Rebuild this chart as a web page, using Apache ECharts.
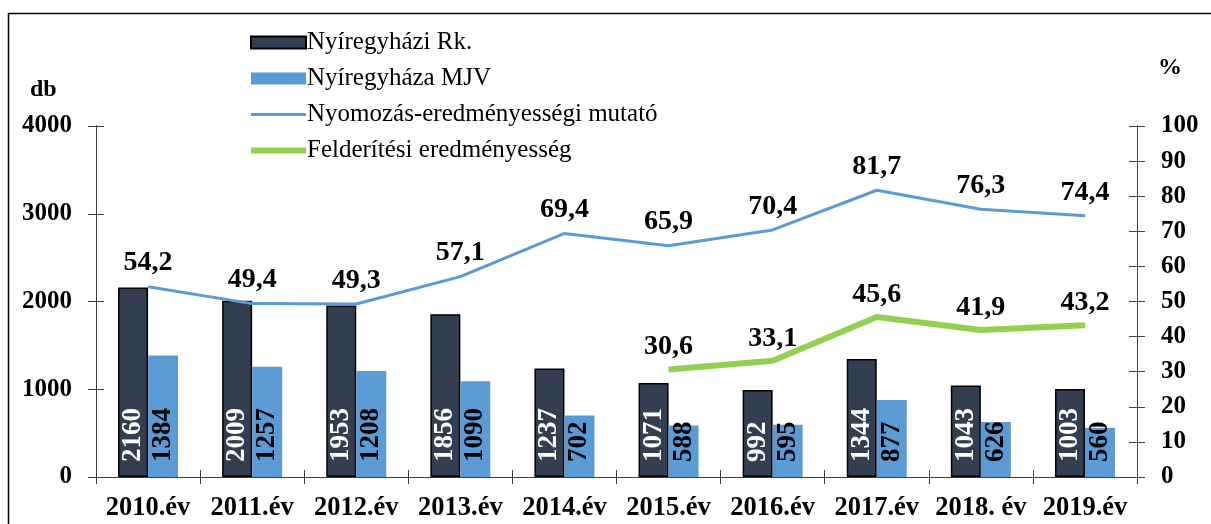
<!DOCTYPE html>
<html>
<head>
<meta charset="utf-8">
<script src="https://cdn.jsdelivr.net/npm/echarts@6/dist/echarts.min.js"></script>
<style>
  html, body { margin: 0; padding: 0; background: #fff; }
  #chart { width: 1211px; height: 524px; }
</style>
</head>
<body>
<div id="chart"></div>
<script>
  const categories = ['2010.év', '2011.év', '2012.év', '2013.év', '2014.év', '2015.év', '2016.év', '2017.év', '2018. év', '2019.év'];
  const rkValues = [2160, 2009, 1953, 1856, 1237, 1071, 992, 1344, 1043, 1003];
  const mjvValues = [1384, 1257, 1208, 1090, 702, 588, 595, 877, 626, 560];
  const nyomozasValues = [54.2, 49.4, 49.3, 57.1, 69.4, 65.9, 70.4, 81.7, 76.3, 74.4];
  const felderitesValues = [null, null, null, null, null, 30.6, 33.1, 45.6, 41.9, 43.2];
  const seriesNames = ['Nyíregyházi Rk.', 'Nyíregyháza MJV', 'Nyomozás-eredményességi mutató', 'Felderítési eredményesség'];

  const FONT = '"Liberation Serif", "Times New Roman", serif';
  const AXIS_COLOR = '#404040';
  const NO_SYMBOL = { color: 'rgba(0,0,0,0)', borderColor: 'rgba(0,0,0,0)', borderWidth: 0 };

  const chart = echarts.init(document.getElementById('chart'));

  // kereszt alakú osztásjelek: minden tengely kétszer, egyszer kifelé, egyszer befelé
  function yAxisBase(pos, max, interval, showLabel, inside) {
    return {
      type: 'value',
      position: pos,
      min: 0,
      max: max,
      interval: interval,
      axisLine: { show: true, lineStyle: { color: AXIS_COLOR, width: 1 } },
      axisTick: { show: true, inside: inside, length: 8, lineStyle: { color: AXIS_COLOR } },
      splitLine: { show: false },
      axisLabel: {
        show: showLabel,
        margin: 24,
        formatter: v => String(v),
        color: '#000',
        fontFamily: FONT,
        fontWeight: 'bold',
        fontSize: 25
      }
    }
  }

  const pctFormat = p => p.value == null ? '' : String(p.value).replace('.', ',');

  const barLabel = (color) => ({
    show: true,
    position: 'insideBottom',
    distance: 15,
    rotate: 90,
    align: 'left',
    verticalAlign: 'middle',
    color: color,
    fontFamily: FONT,
    fontWeight: 'bold',
    fontSize: 27
  });

  const lineLabel = {
    show: true,
    position: 'top',
    distance: 9,
    formatter: pctFormat,
    color: '#000',
    fontFamily: FONT,
    fontWeight: 'bold',
    fontSize: 28
  };

  chart.setOption({
    animation: false,
    grid: { left: 96, right: 74, top: 126, bottom: 47, containLabel: false },
    legend: {
      orient: 'vertical',
      left: 248,
      top: 30,
      padding: 0,
      itemWidth: 55,
      itemHeight: 12,
      itemGap: 11,
      data: [
        { name: seriesNames[0], icon: 'rect' },
        { name: seriesNames[1], icon: 'rect' },
        { name: seriesNames[2], itemStyle: NO_SYMBOL, lineStyle: { width: 3 } },
        { name: seriesNames[3], itemStyle: NO_SYMBOL, lineStyle: { width: 6 } }
      ],
      textStyle: { fontFamily: FONT, fontSize: 25, color: '#000', padding: [0, 0, 0, -4] }
    },
    graphic: [
      {
        type: 'rect',
        shape: { x: 8.5, y: 13.5, width: 1300, height: 600 },
        style: { fill: 'none', stroke: '#000', lineWidth: 1.5 },
        z: -1
      },
      {
        type: 'text', left: 30, top: 78,
        style: { text: 'db', fontFamily: FONT, fontWeight: 'bold', fontSize: 24, fill: '#000' }
      },
      {
        type: 'text', left: 1158, top: 56,
        style: { text: '%', fontFamily: FONT, fontWeight: 'bold', fontSize: 24, fill: '#000' }
      }
    ],
    xAxis: [
      {
        type: 'category',
        data: categories,
        axisLine: { lineStyle: { color: AXIS_COLOR } },
        axisTick: { show: true, length: 7, lineStyle: { color: AXIS_COLOR } },
        axisLabel: {
          interval: 0,
          margin: 18,
          color: '#000',
          fontFamily: FONT,
          fontWeight: 'bold',
          fontSize: 26.5
        }
      },
      {
        type: 'category',
        data: categories,
        position: 'bottom',
        axisLine: { show: false },
        axisTick: { show: true, inside: true, length: 7, lineStyle: { color: AXIS_COLOR } },
        axisLabel: { show: false }
      }
    ],
    yAxis: [
      yAxisBase('left', 4000, 1000, true, false),
      yAxisBase('right', 100, 10, true, false),
      yAxisBase('left', 4000, 1000, false, true),
      yAxisBase('right', 100, 10, false, true)
    ],
    series: [
      {
        name: seriesNames[0],
        type: 'bar',
        data: rkValues,
        barWidth: 30,
        barGap: '0%',
        itemStyle: { color: '#333f50', borderColor: '#000', borderWidth: 1.5 },
        label: barLabel('#fff')
      },
      {
        name: seriesNames[1],
        type: 'bar',
        data: mjvValues,
        barWidth: 30,
        itemStyle: { color: '#5b9bd5' },
        label: barLabel('#000')
      },
      {
        name: seriesNames[2],
        type: 'line',
        yAxisIndex: 1,
        data: nyomozasValues,
        symbol: 'circle',
        symbolSize: 1,
        lineStyle: { color: '#5b9bd5', width: 3 },
        itemStyle: { color: '#5b9bd5' },
        label: lineLabel
      },
      {
        name: seriesNames[3],
        type: 'line',
        yAxisIndex: 1,
        data: felderitesValues,
        symbol: 'circle',
        symbolSize: 1,
        lineStyle: { color: '#92d050', width: 6 },
        itemStyle: { color: '#92d050' },
        label: Object.assign({}, lineLabel, { distance: 8 })
      }
    ]
  })
</script>
</body>
</html>
